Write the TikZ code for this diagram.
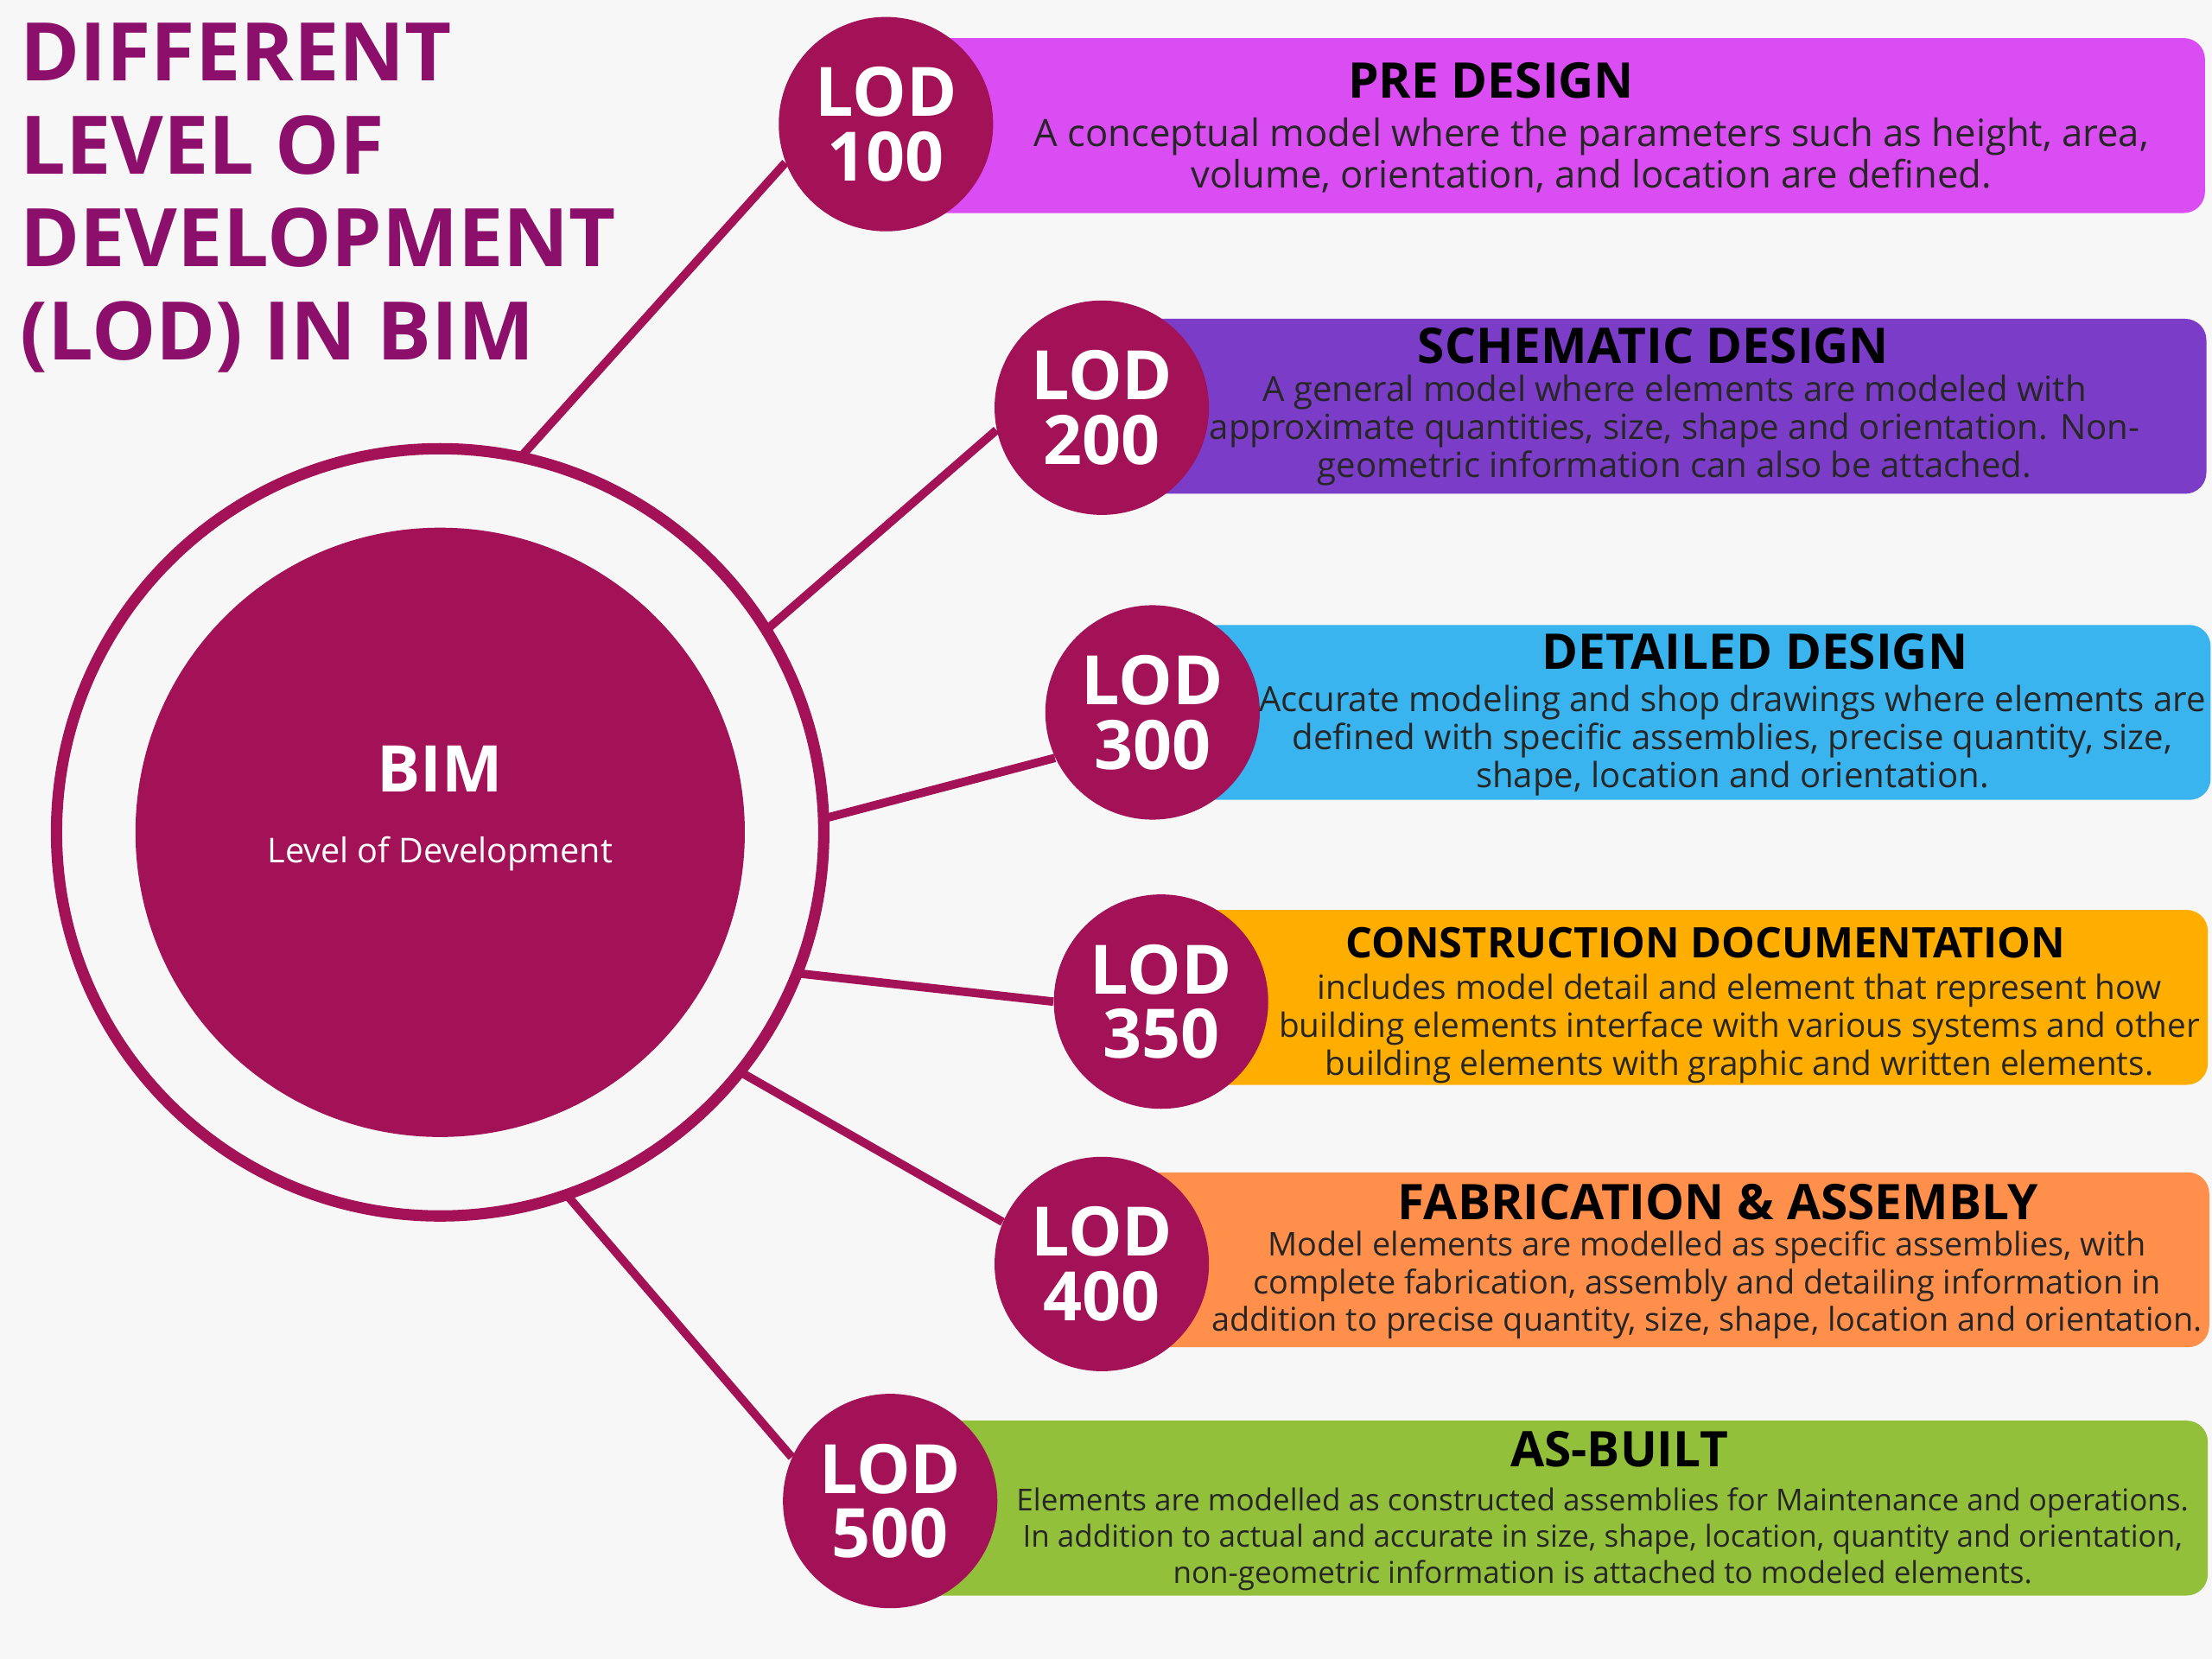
\documentclass[tikz,border=0pt]{standalone}
\usepackage{fontspec}
\setmainfont{Open Sans}
\definecolor{bim}{HTML}{A31157}
\definecolor{ttl}{HTML}{8B0F6B}
\definecolor{c1}{HTML}{D94DF2}
\definecolor{c2}{HTML}{7B3DC8}
\definecolor{c3}{HTML}{3AB4EE}
\definecolor{c4}{HTML}{FFAE00}
\definecolor{c5}{HTML}{FF8F4A}
\definecolor{c6}{HTML}{93C03B}
\definecolor{bg}{HTML}{F7F7F7}
\tikzset{
 lod/.style={circle,fill=bim,minimum size=3.04cm,inner sep=0pt,text=white,align=center,font=\bfseries\fontsize{27.5}{26}\selectfont},
 head/.style={font=\bfseries\fontsize{19.8}{20}\selectfont,text=black,inner sep=0pt},
 body/.style={align=center,text=black!85,inner sep=0pt},
 conn/.style={draw=bim,line width=0.12cm},
 bar/.style={rounded corners=0.3cm}
}
\begin{document}
\begin{tikzpicture}[x=0.02cm,y=-0.02cm]
\fill[bg] (0,0) rectangle (1568,1176);
\useasboundingbox (0,0) rectangle (1568,1176);
% title
\node[anchor=north west,align=left,text=ttl,font=\bfseries\fontsize{32.6}{37.5}\selectfont,inner sep=0pt] (title) at (14,16) {DIFFERENT\\LEVEL OF\\DEVELOPMENT\\(LOD) IN BIM};
% ring
\node[circle,draw=bim,line width=0.16cm,minimum size=10.88cm,inner sep=0pt] (ring) at (312,590) {};
\node[circle,fill=bim,minimum size=8.64cm,inner sep=0pt] (core) at (312,590) {};
\node[text=white,font=\bfseries\fontsize{26}{26}\selectfont] (bimt) at (312,545) {BIM};
\node[text=white,font=\fontsize{13.8}{14}\selectfont] (bims) at (312,605) {Level of Development};
% bars
\fill[c1,bar] (620,27) rectangle (1563,151);
\fill[c2,bar] (770,226) rectangle (1564,350);
\fill[c3,bar] (800,443) rectangle (1567,567);
\fill[c4,bar] (800,645) rectangle (1565,769);
\fill[c5,bar] (770,831) rectangle (1566,955);
\fill[c6,bar] (620,1007) rectangle (1565,1131);
% lod circles
\node[lod] (l1) at (628,88) {LOD\\100};
\node[lod] (l2) at (781,289) {LOD\\200};
\node[lod] (l3) at (817,505) {LOD\\300};
\node[lod] (l4) at (823,710) {LOD\\350};
\node[lod] (l5) at (781,896) {LOD\\400};
\node[lod] (l6) at (631,1064) {LOD\\500};
% connectors
\coordinate (s1) at (370,323);
\coordinate (s2) at (545,445);
\coordinate (s3) at (585,580);
\coordinate (s4) at (566,690);
\coordinate (s5) at (525,760);
\coordinate (s6) at (400,845);
\draw[conn] (s1) -- (l1.201);
\draw[conn] (s2) -- (l2.192);
\draw[conn] (s3) -- (l3.205);
\draw[conn] (s4) -- (l4.180);
\draw[conn] (s5) -- (l5.157);
\draw[conn] (s6) -- (l6.156);
% texts
\node[head] (h1) at (1057,57) {PRE DESIGN};
\node[body,font=\fontsize{15.2}{16.8}\selectfont] (b1) at (1128,110) {A conceptual model where the parameters such as height, area,\\volume, orientation, and location are defined.};
\node[head] (h2) at (1172,245) {SCHEMATIC DESIGN};
\node[body,font=\fontsize{14}{15.4}\selectfont] (b2) at (1187,305) {A general model where elements are modeled with\\approximate quantities, size, shape and orientation. Non-\\geometric information can also be attached.};
\node[head] (h3) at (1244,462) {DETAILED DESIGN};
\node[body,font=\fontsize{14}{15.4}\selectfont] (b3) at (1228,525) {Accurate modeling and shop drawings where elements are\\defined with specific assemblies, precise quantity, size,\\shape, location and orientation.};
\node[head,font=\bfseries\fontsize{17}{20}\selectfont] (h4) at (1209,668) {CONSTRUCTION DOCUMENTATION};
\node[body,font=\fontsize{13.5}{15.4}\selectfont] (b4) at (1233,729) {includes model detail and element that represent how\\building elements interface with various systems and other\\building elements with graphic and written elements.};
\node[head] (h5) at (1218,852) {FABRICATION \& ASSEMBLY};
\node[body,font=\fontsize{13.2}{15.2}\selectfont] (b5) at (1210,911) {Model elements are modelled as specific assemblies, with\\complete fabrication, assembly and detailing information in\\addition to precise quantity, size, shape, location and orientation.};
\node[head] (h6) at (1148,1027) {AS-BUILT};
\node[body,font=\fontsize{12.2}{14.6}\selectfont] (b6) at (1136,1091) {Elements are modelled as constructed assemblies for Maintenance and operations.\\In addition to actual and accurate in size, shape, location, quantity and orientation,\\non-geometric information is attached to modeled elements.};
\end{tikzpicture}
\end{document}
